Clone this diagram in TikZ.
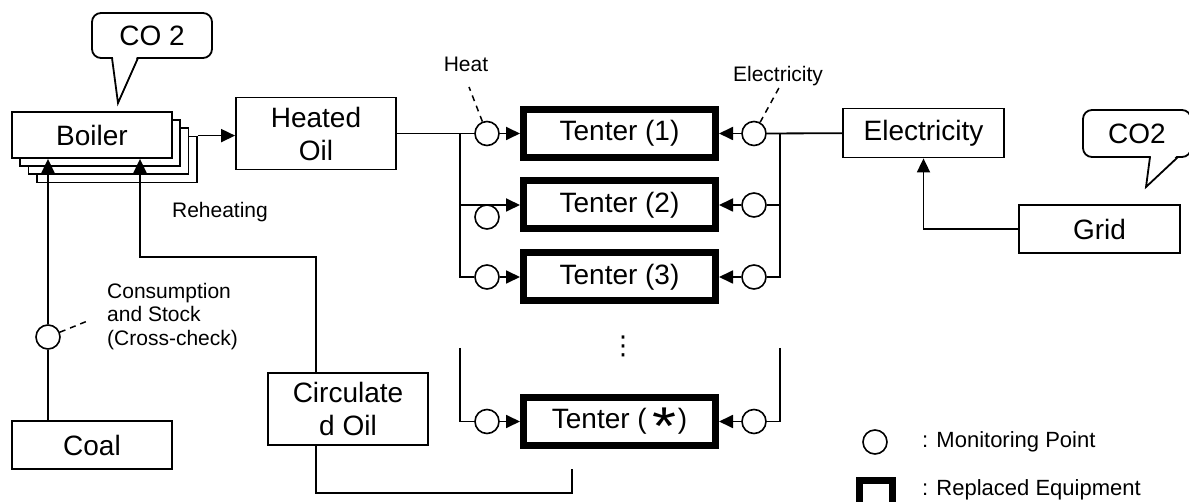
\documentclass[tikz,border=0pt]{standalone}
\usepackage{fontspec}
\setmainfont{Liberation Sans}
\newfontfamily\dvs{DejaVu Sans}
\usepackage{graphicx}
\usetikzlibrary{arrows.meta,calc}
\newcommand\fbig{\fontsize{28}{33}\selectfont}
\newcommand\fsmall{\fontsize{21}{23.5}\selectfont}
\newcommand\fleg{\fontsize{22}{24}\selectfont}
\begin{document}
\begin{tikzpicture}[x=1pt,y=-1pt,
  wire/.style={line width=1.8pt},
  blk/.style={draw, line width=1.8pt, fill=white, minimum width=160pt, inner sep=0pt, align=center, font=\fbig},
  tent/.style={draw, line width=7pt, fill=white, minimum width=192pt, minimum height=48pt, inner sep=0pt, font=\fbig},
  mon/.style={circle, draw, line width=1.6pt, fill=white, minimum size=24pt, inner sep=0pt},
  lbl/.style={inner sep=0pt, font=\fsmall},
  arr/.style={-{Triangle[length=14pt,width=13pt]}},
  dline/.style={line width=1.5pt, dash pattern=on 6pt off 5pt}]
\useasboundingbox (0,0) rectangle (1189,502);
\clip (0,0) rectangle (1189,502);

% boiler stack
\node[blk, minimum height=46pt] (boiler3) at (92+25,135+24.5) {};
\node[blk, minimum height=46pt] (boiler2) at (92+16.5,135+16.3) {};
\node[blk, minimum height=46pt] (boiler1) at (92+8.3,135+8.2) {};
\node[blk, minimum height=46pt] (boiler) at (92,135) {Boiler};

% other boxes
\node[blk, minimum height=72pt] (heated) at (316,133.5) {Heated\\Oil};
\node[blk, minimum height=72pt] (circ) at (348,409) {Circulate\\d Oil};
\node[blk, minimum height=48pt] (coal) at (92,445) {Coal};
\node[blk, minimum width=161pt, minimum height=49pt] (elec) at (923.5,133) {Electricity};
\node[blk, minimum width=161pt, minimum height=48pt] (grid) at (1099.5,229) {Grid};

% tenters
\node[tent] (t1) at (619.5,133.5) {Tenter (1)};
\node[tent] (t2) at (619.5,205) {Tenter (2)};
\node[tent] (t3) at (619.5,277) {Tenter (3)};
\node[tent] (t4) at (619.5,421.5) {Tenter (\hspace{6pt}\raisebox{-16pt}[0pt][0pt]{\scalebox{2.2}[1.9]{*}}\hspace{1pt})};
\node[font=\dvs\fontsize{26}{26}\selectfont, inner sep=0pt] (dots) at (623,346) {⋮};

% monitoring points
\node[mon] (h1) at (487,133.5) {};
\node[mon] (h2) at (487,217) {};
\node[mon] (h3) at (487,277) {};
\node[mon] (h4) at (487,421.5) {};
\node[mon] (e1) at (754,133.5) {};
\node[mon] (e2) at (754,205) {};
\node[mon] (e3) at (754,277) {};
\node[mon] (e4) at (754,421.5) {};
\node[mon] (mc) at (48,337) {};

% junction coordinates
\coordinate (jl) at (460,133.5);
\coordinate (jl4) at (460,348);
\coordinate (jr) at (780,133.5);
\coordinate (jr4) at (780,348);

% heat side
\draw[wire] (heated) -- (h1);
\draw[wire,arr] (h1) -- (t1);
\draw[wire,arr] (jl) |- (t2);
\draw[wire] (jl) |- (h3);
\draw[wire,arr] (h3) -- (t3);
\draw[wire] (jl4) |- (h4);
\draw[wire,arr] (h4) -- (t4);

% electricity side
\draw[wire] (elec) -- (e1);
\draw[wire,arr] (e1) -- (t1);
\draw[wire] (jr) |- (e2);
\draw[wire,arr] (e2) -- (t2);
\draw[wire] (jr) |- (e3);
\draw[wire,arr] (e3) -- (t3);
\draw[wire] (jr4) |- (e4);
\draw[wire,arr] (e4) -- (t4);
\draw[wire,arr] (grid) -| (elec);

% boiler output
\draw[wire,arr] (boiler3.north east) -- (heated.west |- boiler3.north east);

% coal
\draw[wire] (coal.north -| mc) -- (mc);
\draw[wire,arr] (mc) -- (boiler.south -| mc);

% circulated oil
\coordinate (c1) at (316,257);
\coordinate (c2) at (140,257);
\coordinate (c3) at (316,493);
\coordinate (c4) at (572,493);
\coordinate (c5) at (572,469);
\draw[wire,arr] (circ.north -| c1) -- (c1) -- (c2) -- (boiler.south -| c2);
\draw[wire] (circ.south -| c3) -- (c3) -- (c4) -- (c5);

% labels
\node[lbl] (reh) at (220,212) {Reheating};
\node[lbl] (heatl) at (466,64) {Heat};
\node[lbl] (elecl) at (778,76) {Electricity};
\node[lbl, anchor=west, align=left] (cons) at (107,316.5) {Consumption\\and Stock\\(Cross-check)};
\coordinate (hd) at (469,87);
\coordinate (ed) at (780,86);
\coordinate (cd) at (90,320);
\draw[dline] (h1) -- (hd);
\draw[dline] (e1) -- (ed);
\draw[dline] (mc) -- (cd);

% callouts
\node[draw, line width=1.8pt, rounded corners=9pt, fill=white, minimum width=120pt, minimum height=45pt, inner sep=0pt, font=\fbig] (co2a) at (152,35.5) {CO 2};
\fill[white] (113,56.5) -- (118,101) -- (137,56.5) -- cycle;
\draw[wire, line join=miter] (112,58) -- (118,103) -- (138,58);

\node[draw, line width=1.8pt, rounded corners=9pt, fill=white, minimum width=108pt, minimum height=47pt, inner sep=0pt, font=\fbig] (co2b) at (1137,133.5) {CO2};
\fill[white] (1151,155.5) -- (1146,185) -- (1177,155.5) -- cycle;
\draw[wire, line join=miter] (1150,157) -- (1146,187) -- (1178,157);

% legend
\node[mon] (lm) at (875,442) {};
\node[inner sep=0pt, anchor=west, font=\fleg] (lmt) at (922,442) {: Monitoring Point};
\node[draw, line width=7pt, minimum width=33pt, minimum height=33pt, inner sep=0pt] (lr) at (876,497) {};
\node[inner sep=0pt, anchor=west, font=\fleg] (lrt) at (922,490) {: Replaced Equipment};
\end{tikzpicture}
\end{document}
